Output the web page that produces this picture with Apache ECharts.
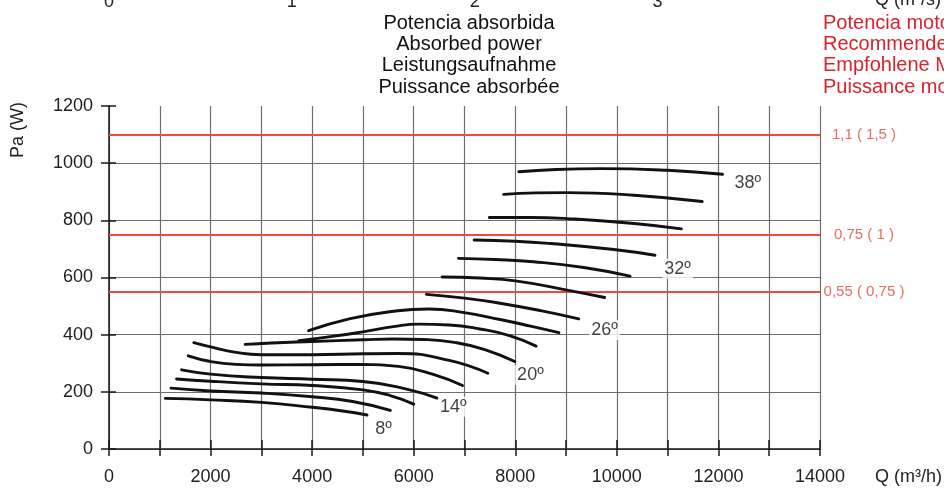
<!DOCTYPE html>
<html>
<head>
<meta charset="utf-8">
<script src="https://cdn.jsdelivr.net/npm/echarts@6/dist/echarts.min.js"></script>
<style>html,body{margin:0;padding:0;background:#fff}#c{width:944px;height:489px}</style>
</head>
<body>
<div id="c"></div>
<script>
// Blade-angle curves: [Q (m3/h), Pa (W)]
const curve08 = [[1110,177],[2000,172],[3000,163],[4000,146],[4600,133],[5080,119]];
const curve10 = [[1220,213],[2000,203],[3000,196],[4000,183],[4800,166],[5540,135]];
const curve12 = [[1330,245],[2000,237],[3000,228],[4000,222],[5000,207],[5540,187],[6000,157]];
const curve14 = [[1430,277],[2000,262],[3000,250],[4000,244],[5000,236],[5900,208],[6460,178]];
const curve16 = [[1560,326],[2000,306],[2500,296],[3000,294],[4000,295],[5000,296],[5700,289],[6400,260],[6960,222]];
const curve18 = [[1670,372],[2000,357],[2500,338],[3000,330],[4000,330],[5000,333],[5700,334],[6700,310],[7460,265]];
const curve20 = [[2680,366],[3200,371],[4000,376],[5000,382],[5600,385],[6200,383],[6800,373],[7400,348],[7990,306]];
const curve22 = [[3740,379],[4400,394],[5000,410],[5600,428],[6100,437],[6700,434],[7300,420],[7900,396],[8410,360]];
const curve24 = [[3930,414],[4750,456],[5600,482],[6300,490],[7000,477],[7700,453],[8300,430],[8860,407]];
const curve26 = [[6250,541],[7000,528],[7700,510],[8500,484],[9250,455]];
const curve28 = [[6560,602],[7300,598],[8000,588],[9020,556],[9760,530]];
const curve30 = [[6880,667],[7600,663],[8360,655],[9350,635],[10260,605]];
const curve32 = [[7190,731],[8000,727],[8690,719],[9940,698],[10750,678]];
const curve34 = [[7490,810],[8300,810],[9020,806],[10340,789],[11270,770]];
const curve36 = [[7770,891],[8400,896],[9020,897],[10340,888],[11680,866]];
const curve38 = [[8070,970],[8800,978],[9680,981],[11000,975],[12080,961]];
const curves = [curve08,curve10,curve12,curve14,curve16,curve18,curve20,curve22,curve24,curve26,curve28,curve30,curve32,curve34,curve36,curve38];
const curveAngles = ['8º','10º','12º','14º','16º','18º','20º','22º','24º','26º','28º','30º','32º','34º','36º','38º'];

// Angle labels
const labelTexts = ['8º','14º','20º','26º','32º','38º'];
const labelQ = [5406,6779,8298,9757,11197,12578];
const labelPa = [70,148,259,416,631,932];

// Recommended motor power lines
const motorPa = [1100,750,550];
const motorLabels = ['1,1 ( 1,5 )','0,75 ( 1 )','0,55 ( 0,75 )'];

// Axes
const qMax = 14000;
const paMax = 1200;
const titleLines = ['Potencia absorbida','Absorbed power','Leistungsaufnahme','Puissance absorbée'];
const motorTitleLines = ['Potencia motor recomendada','Recommended motor power','Empfohlene Motorleistung','Puissance moteur recommandée'];

const FONT = 'Liberation Sans, Arial, Helvetica, sans-serif';
const chart = echarts.init(document.getElementById('c'), null, {renderer:'canvas'});

const series = curves.map((c,i) => ({
  name: curveAngles[i], type:'line', data:c, smooth:0.5, showSymbol:false, symbol:'none',
  lineStyle:{color:'#111', width:2.9, cap:'round'}, silent:true, z:5
}));
series.push({
  type:'scatter', data: labelTexts.map((t,i)=>({value:[labelQ[i],labelPa[i]], name:t})),
  symbolSize:0, silent:true, z:6,
  label:{show:true, position:'inside', formatter:p=>p.name, color:'#111', fontSize:18, fontFamily:FONT,
         backgroundColor:'#fff', padding:[1,2]}
});
series.push({
  type:'line', data:[], silent:true, z:4,
  markLine:{
    silent:true, symbol:'none', animation:false,
    lineStyle:{color:'#f04a3e', width:2, type:'solid'},
    data: motorPa.map((v,i)=>({yAxis:v, label:{formatter:motorLabels[i]}})),
    label:{show:true, position:'end', distance:44, align:'center', color:'#f06a5a', fontSize:15, fontFamily:FONT}
  }
});

chart.setOption({
  animation:false,
  backgroundColor:'#fff',
  grid:{left:109, right:124, top:106, bottom:40, containLabel:false, outerBoundsMode:'none'},
  xAxis:[
    {type:'value', min:0, max:qMax, interval:1000, position:'bottom',
     name:'Q (m³/h)', nameLocation:'end', nameGap:55,
     nameTextStyle:{color:'#222', fontSize:18, fontFamily:FONT, verticalAlign:'top', padding:[19,0,0,0]},
     axisLine:{show:true, lineStyle:{color:'#1a1a1a', width:1.5}},
     axisTick:{show:true, length:7, lineStyle:{color:'#1a1a1a', width:1.5}},
     axisLabel:{color:'#222', fontSize:18, fontFamily:FONT, margin:19, formatter:v=> v%2000===0 ? String(v) : ''},
     splitLine:{show:true, lineStyle:{color:'#6e6e6e', width:1.2}}},
    {type:'value', min:0, max:qMax/3600, interval:1, position:'top', offset:87,
     axisLine:{show:false}, axisTick:{show:false}, splitLine:{show:false},
     axisLabel:{color:'#222', fontSize:18, fontFamily:FONT, margin:8, formatter:v=> Number.isInteger(v) ? String(v) : ''}},
    {type:'value', min:0, max:qMax, interval:1000, position:'bottom',
     axisLine:{show:false}, axisLabel:{show:false}, splitLine:{show:false},
     axisTick:{show:true, inside:true, length:9, lineStyle:{color:'#1a1a1a', width:1.5}}}
  ],
  yAxis:[
    {type:'value', min:0, max:paMax, interval:200, position:'left',
     axisLine:{show:true, lineStyle:{color:'#1a1a1a', width:1.5}},
     axisTick:{show:true, length:8, lineStyle:{color:'#1a1a1a', width:1.5}},
     axisLabel:{color:'#222', fontSize:18, fontFamily:FONT, margin:16, formatter:v=>String(v)},
     splitLine:{show:true, showMaxLine:false, lineStyle:{color:'#6e6e6e', width:1.2}}},
    {type:'value', min:0, max:paMax, interval:200, position:'left',
     axisLine:{show:false}, axisLabel:{show:false}, splitLine:{show:false},
     axisTick:{show:true, inside:true, length:7, lineStyle:{color:'#1a1a1a', width:1.5}}}
  ],
  graphic:[
    {type:'text', x:469, y:12.5, silent:true,
     style:{text:titleLines.join('\n'), font:'20px '+FONT, fill:'#111', align:'center', verticalAlign:'top', lineHeight:21.3}},
    {type:'text', x:823, y:12.5, silent:true,
     style:{text:motorTitleLines.join('\n'), font:'20px '+FONT, fill:'#d8232a', align:'left', verticalAlign:'top', lineHeight:21.3}},
    {type:'text', x:18, y:130, rotation:Math.PI/2, silent:true,
     style:{text:'Pa (W)', font:'18px '+FONT, fill:'#222', align:'center', verticalAlign:'middle'}},
    {type:'text', x:875, y:9, silent:true,
     style:{text:'Q (m³/s)', font:'18px '+FONT, fill:'#222', align:'left', verticalAlign:'bottom'}}
  ],
  series: series
});
</script>
</body>
</html>
